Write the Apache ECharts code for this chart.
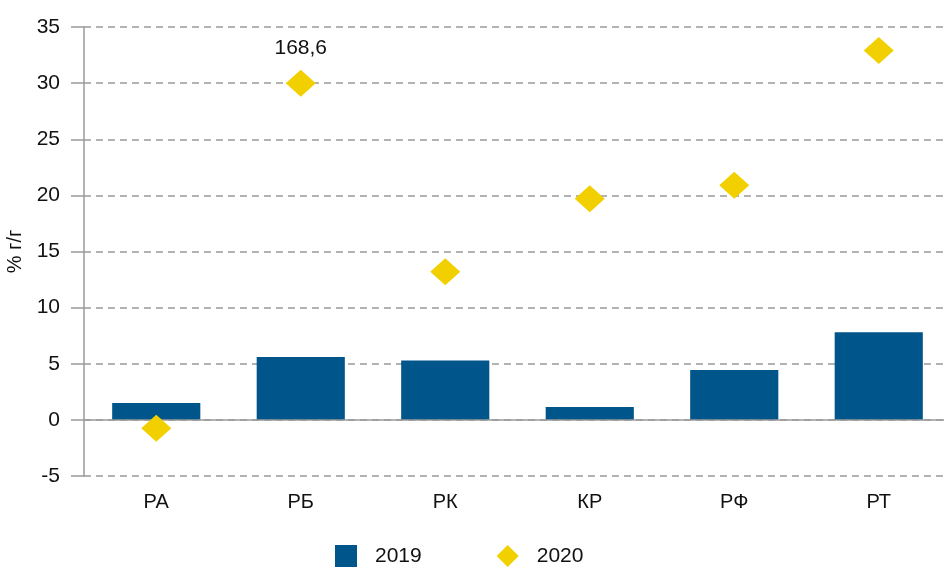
<!DOCTYPE html>
<html>
<head>
    <meta charset="utf-8">
    <title>% г/г</title>
    <script src="https://cdn.jsdelivr.net/npm/echarts@6/dist/echarts.min.js"></script>
    <style>
        html, body { margin: 0; padding: 0; background: #fff; }
        #chart1 { width: 944px; height: 568px; }
    </style>
</head>
<body>
<div id="chart1"></div>
<script>
    // данные
    var regions = ['РА', 'РБ', 'РК', 'КР', 'РФ', 'РТ'];
    var values2019 = [1.5, 5.6, 5.3, 1.15, 4.45, 7.8];
    var values2020 = [-0.75, 30, 13.2, 19.7, 20.9, 32.9];
    var labels2020 = ['', '168,6', '', '', '', ''];

    var myChart1 = echarts.init(document.getElementById('chart1'));
    var font = 'Liberation Sans, Arial, sans-serif';

    myChart1.setOption({
        animation: false,
        textStyle: { fontFamily: font },
        legend: {
            top: 545,
            left: 335,
            padding: 0,
            itemWidth: 22,
            itemHeight: 22,
            itemGap: 75,
            textStyle: { fontSize: 21, color: '#111', fontFamily: font, padding: [0, 0, 0, 13] },
            data: [
                { name: '2019', icon: 'rect' },
                { name: '2020', icon: 'diamond' }
            ]
        },
        grid: { left: 84, top: 27, width: 867, bottom: 92, outerBoundsMode: 'none', containLabel: false },
        xAxis: {
            type: 'category',
            data: regions,
            axisLine: { show: false, onZero: false },
            axisTick: { show: false },
            axisLabel: { fontSize: 20, color: '#111', margin: 16 }
        },
        yAxis: {
            type: 'value',
            min: -5,
            max: 35,
            interval: 5,
            name: '% г/г',
            nameLocation: 'middle',
            nameGap: 54,
            nameTextStyle: { fontSize: 20, color: '#111' },
            axisLine: { show: true, lineStyle: { color: '#9a9a9a', width: 1.5 } },
            axisTick: { show: true, length: 13, lineStyle: { color: '#9a9a9a', width: 1.5 } },
            axisLabel: { fontSize: 21, color: '#111', margin: 24 },
            splitLine: { lineStyle: { color: '#9a9a9a', type: [7, 5], width: 1.5 } }
        },
        series: [{
            name: '2019',
            type: 'bar',
            data: values2019,
            barWidth: '61%',
            itemStyle: { color: '#00568A' },
            markLine: {
                silent: true,
                symbol: 'none',
                label: { show: false },
                lineStyle: { color: '#9a9a9a', type: 'solid', width: 1.5 },
                data: [{ yAxis: 0 }]
            }
        }, {
            name: '2020',
            type: 'scatter',
            symbol: 'diamond',
            symbolSize: [30, 27],
            data: values2020,
            itemStyle: { color: '#F2D000', opacity: 1 },
            label: {
                show: true,
                position: 'top',
                distance: 11,
                fontSize: 21,
                color: '#111',
                formatter: function (p) { return labels2020[p.dataIndex]; }
            },
            z: 5
        }]
    });
</script>
</body>
</html>
